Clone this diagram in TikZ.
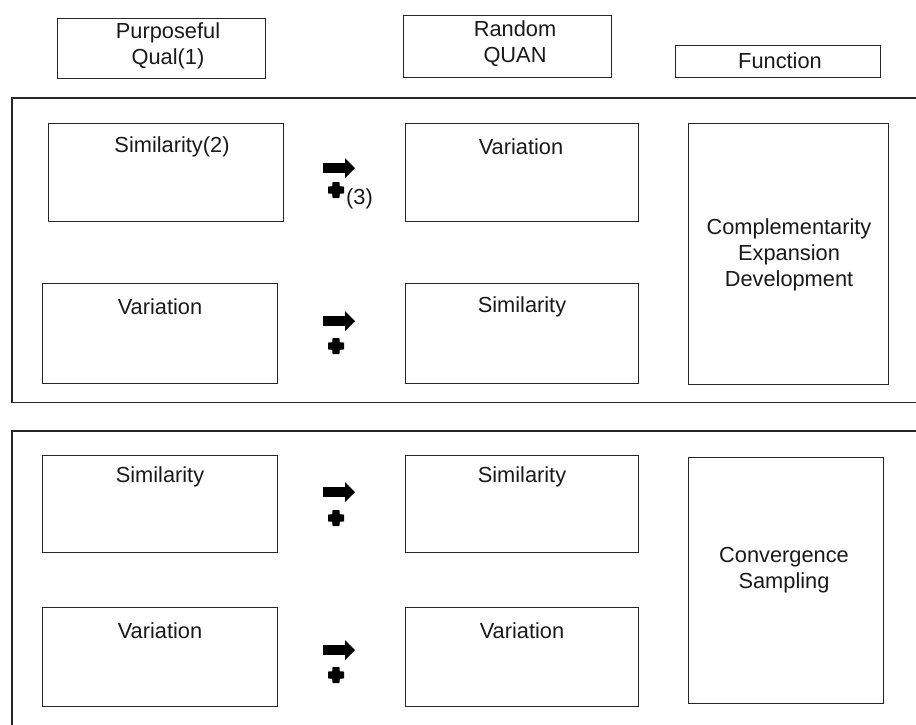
\documentclass[tikz,border=0pt]{standalone}
\usepackage{fontspec}
\setmainfont{Liberation Sans}
\begin{document}
\begin{tikzpicture}[x=1pt,y=-1pt,
  box/.style={draw=black!85, line width=1.2pt, anchor=north west, inner sep=0pt},
  txt/.style={font=\fontsize{21.8}{26}\selectfont, align=center, inner sep=0pt, text=black!90},
  frameline/.style={draw=black!85, line width=1.2pt},
  fatarrow/.pic={\fill[black] (-16,-4.8) -- (6,-4.8) -- (6,-10) -- (16,0) -- (6,10) -- (6,4.8) -- (-16,4.8) -- cycle;},
  fatplus/.pic={\fill[black, rounded corners=0.8pt] (-3.6,-8) -- (3.6,-8) -- (3.6,-3.6) -- (8,-3.6) -- (8,3.6) -- (3.6,3.6) -- (3.6,8) -- (-3.6,8) -- (-3.6,3.6) -- (-8,3.6) -- (-8,-3.6) -- (-3.6,-3.6) -- cycle;}]
\useasboundingbox (0,0) rectangle (916,724);

% header boxes
\node[box, minimum width=208pt, minimum height=60pt] (hqual) at (57,18) {};
\node[txt] (tqual) at (168,46) {Purposeful\\Qual(1)};
\node[box, minimum width=208pt, minimum height=62pt] (hquan) at (403,15) {};
\node[txt] (tquan) at (515,44) {Random\\QUAN};
\node[box, minimum width=205pt, minimum height=32pt] (hfun) at (675,45) {};
\node[txt] (tfun) at (780,61) {Function};

% frames
\begin{scope}
\clip (0,0) rectangle (916,724);
\draw[frameline] (930,98) -- (12,98) -- (12,402.5) -- (930,402.5);
\draw[frameline] (930,431) -- (12,431) -- (12,740);
\end{scope}

% row 1
\node[box, minimum width=235pt, minimum height=98pt] (l1) at (48,123) {};
\node[txt] (tl1) at (172,147) {Similarity(2)};
\node[box, minimum width=233pt, minimum height=98pt] (m1) at (405,123) {};
\node[txt] (tm1) at (521,147) {Variation};
\pic at (339,168) {fatarrow};
\pic at (336,190) {fatplus};
\node[txt, anchor=west] (n3) at (346,199) {(3)};

% function box 1
\node[box, minimum width=200pt, minimum height=261pt] (f1) at (688,123) {};
\node[txt] (tf1) at (789,255) {Complementarity\\Expansion\\Development};

% row 2
\node[box, minimum width=235pt, minimum height=100pt] (l2) at (42,283) {};
\node[txt] (tl2) at (160,307) {Variation};
\node[box, minimum width=233pt, minimum height=100pt] (m2) at (405,283) {};
\node[txt] (tm2) at (522,307) {Similarity};
\pic at (339,321) {fatarrow};
\pic at (336,346) {fatplus};

% row 3
\node[box, minimum width=235pt, minimum height=97pt] (l3) at (42,455) {};
\node[txt] (tl3) at (160,477) {Similarity};
\node[box, minimum width=233pt, minimum height=97pt] (m3) at (405,455) {};
\node[txt] (tm3) at (522,477) {Similarity};
\pic at (339,492) {fatarrow};
\pic at (336,518) {fatplus};

% function box 2
\node[box, minimum width=195pt, minimum height=246pt] (f2) at (688,457) {};
\node[txt] (tf2) at (784,570) {Convergence\\Sampling};

% row 4
\node[box, minimum width=235pt, minimum height=99pt] (l4) at (42,607) {};
\node[txt] (tl4) at (160,631) {Variation};
\node[box, minimum width=233pt, minimum height=99pt] (m4) at (405,607) {};
\node[txt] (tm4) at (522,631) {Variation};
\pic at (339,650) {fatarrow};
\pic at (336,675) {fatplus};
\end{tikzpicture}
\end{document}
